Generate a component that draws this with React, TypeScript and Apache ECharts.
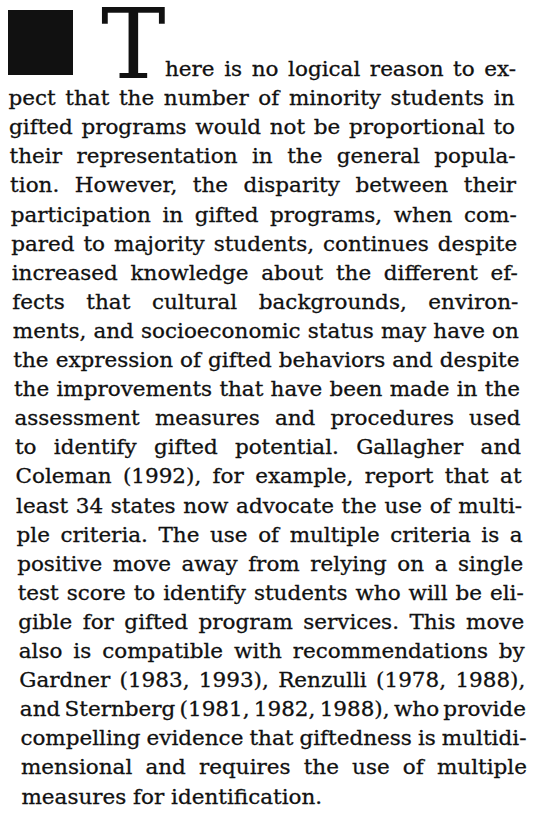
import React, { useEffect, useRef } from "react";
import * as echarts from "echarts";

const DROP_CAP = "T";
const LINES: string[] = [
  "here is no logical reason to ex-",
  "pect that the number of minority students in",
  "gifted programs would not be proportional to",
  "their representation in the general popula-",
  "tion. However, the disparity between their",
  "participation in gifted programs, when com-",
  "pared to majority students, continues despite",
  "increased knowledge about the different ef-",
  "fects that cultural backgrounds, environ-",
  "ments, and socioeconomic status may have on",
  "the expression of gifted behaviors and despite",
  "the improvements that have been made in the",
  "assessment measures and procedures used",
  "to identify gifted potential. Gallagher and",
  "Coleman (1992), for example, report that at",
  "least 34 states now advocate the use of multi-",
  "ple criteria. The use of multiple criteria is a",
  "positive move away from relying on a single",
  "test score to identify students who will be eli-",
  "gible for gifted program services. This move",
  "also is compatible with recommendations by",
  "Gardner (1983, 1993), Renzulli (1978, 1988),",
  "and Sternberg (1981, 1982, 1988), who provide",
  "compelling evidence that giftedness is multidi-",
  "mensional and requires the use of multiple",
  "measures for identification.",
];

const FONT_FAMILY = '"DejaVu Serif", "Liberation Serif", serif';
const INK = "#111111";

export default function App() {
  const ref = useRef<HTMLDivElement>(null);

  useEffect(() => {
    document.body.style.margin = "0";
    const el = ref.current!;
    const chart = echarts.init(el, null, { renderer: "svg" });
    const ctx = document.createElement("canvas").getContext("2d")!;
    const measure = (s: string, size: number) => {
      ctx.font = `${size}px ${FONT_FAMILY}`;
      return ctx.measureText(s).width;
    };

    const fs = 21;
    const firstBaseline = 76;
    const lineStep = 29.1;
    const lineWidth = 506;
    const space = measure(" ", fs);

    const geom = LINES.map((line, i) => {
      const left = i === 0 ? 165 : 8.5 + 0.54 * (i - 1);
      const right = i === 0 ? 516 : left + lineWidth;
      const words = line.split(" ");
      const widths = words.map((w) => measure(w, fs));
      const total = widths.reduce((a, b) => a + b, 0);
      return { line, left, right, words, widths, total };
    });

    // horizontal squeeze so that the tightest justified line has about normal spacing
    const ratios = geom
      .slice(0, geom.length - 1)
      .map((g) => (g.right - g.left) / (g.total + (g.words.length - 1) * space));
    const sx = Math.min(...ratios) * 1.03;

    const elements: any[] = [];
    elements.push({
      type: "rect",
      shape: { x: 8, y: 10, width: 65, height: 65 },
      style: { fill: INK },
    });

    const capSize = 97;
    elements.push({
      type: "text",
      x: 101,
      y: 78 - 0.35 * capSize,
      style: {
        text: DROP_CAP,
        font: `${capSize}px ${FONT_FAMILY}`,
        fill: INK,
        align: "left",
        verticalAlign: "middle",
      },
    });

    geom.forEach((g, i) => {
      const baseline = firstBaseline + i * lineStep;
      const isLast = i === geom.length - 1;
      const gap = isLast
        ? space * sx
        : (g.right - g.left - g.total * sx) / Math.max(1, g.words.length - 1);
      let x = g.left;
      g.words.forEach((w, k) => {
        elements.push({
          type: "text",
          x,
          y: baseline - 0.35 * fs,
          scaleX: sx,
          style: {
            text: w,
            font: `${fs}px ${FONT_FAMILY}`,
            fill: INK,
            stroke: INK,
            lineWidth: 0.3,
            align: "left",
            verticalAlign: "middle",
          },
        });
        x += g.widths[k] * sx + gap;
      });
    });

    chart.setOption({
      animation: false,
      backgroundColor: "#ffffff",
      graphic: { elements },
    });

    return () => chart.dispose();
  }, []);

  return (
    <div
      ref={ref}
      style={{ position: "absolute", left: 0, top: 0, width: 536, height: 814, background: "#fff" }}
    />
  );
}
